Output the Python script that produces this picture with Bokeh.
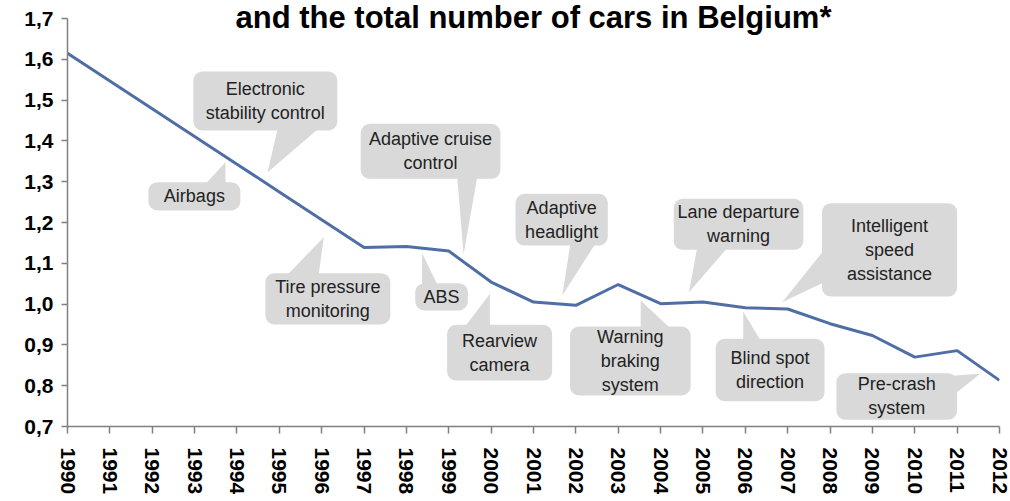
from bokeh.plotting import figure
from bokeh.models import (FixedTicker, CustomJSTickFormatter, BoxAnnotation, Label,
                          ColumnDataSource, Range1d)
from bokeh.core.properties import value
from bokeh.embed import file_html
from bokeh.resources import INLINE

# ---- data ----
years = list(range(1990, 2013))
ratio = [1.615, 1.547, 1.479, 1.411, 1.343, 1.275, 1.207, 1.139, 1.141, 1.130,
         1.054, 1.005, 0.997, 1.048, 1.001, 1.005, 0.991, 0.988, 0.952, 0.923,
         0.870, 0.886, 0.813]
y_ticks = [0.7, 0.8, 0.9, 1.0, 1.1, 1.2, 1.3, 1.4, 1.5, 1.6, 1.7]
title_text = "and the total number of cars in Belgium*"

# callouts: text, box (left, right, bottom, top) and pointer triangle, in data units
callout_texts = ["Electronic\nstability control", "Airbags", "Adaptive cruise\ncontrol",
                 "Tire pressure\nmonitoring", "ABS", "Rearview\ncamera",
                 "Adaptive\nheadlight", "Lane departure\nwarning",
                 "Intelligent\nspeed\nassistance", "Warning\nbraking\nsystem",
                 "Blind spot\ndirection", "Pre-crash\nsystem"]
callout_boxes = [(1992.97, 1996.37, 1.4255, 1.570),
                 (1991.91, 1994.08, 1.2294, 1.2988),
                 (1996.92, 2000.22, 1.3071, 1.4419),
                 (1994.67, 1997.62, 0.950, 1.0757),
                 (1998.21, 1999.45, 0.9843, 1.0512),
                 (1998.96, 2001.44, 0.8127, 0.9493),
                 (2000.575, 2002.754, 1.1436, 1.2703),
                 (2004.31, 2007.37, 1.133, 1.258),
                 (2007.81, 2011.0, 1.0186, 1.2473),
                 (2001.86, 2004.71, 0.776, 0.945),
                 (2005.30, 2007.87, 0.762, 0.915),
                 (2008.15, 2011.0, 0.7164, 0.8307)]
pointer_xs = [[1994.96, 1995.92, 1994.72],
              [1993.26, 1993.73, 1993.73],
              [1999.20, 1999.67, 1999.35],
              [1995.19, 1995.93, 1996.05],
              [1998.37, 1998.73, 1998.37],
              [1999.39, 1999.97, 1999.97],
              [2001.87, 2002.46, 2001.68],
              [2004.86, 2005.57, 2004.67],
              [2007.85, 2007.85, 2006.87],
              [2003.53, 2004.23, 2003.53],
              [2005.95, 2006.36, 2005.95],
              [2010.95, 2010.95, 2011.55]]
pointer_ys = [[1.4300, 1.4300, 1.3225],
              [1.2950, 1.2950, 1.3478],
              [1.3110, 1.3110, 1.1216],
              [1.0720, 1.0720, 1.1640],
              [1.0480, 1.0480, 1.1248],
              [0.9460, 0.9460, 1.0252],
              [1.1480, 1.1480, 1.0211],
              [1.1370, 1.1370, 1.0290],
              [1.1314, 1.0530, 1.0047],
              [0.9410, 0.9410, 1.0088],
              [0.9110, 0.9110, 0.9819],
              [0.8250, 0.7800, 0.8290]]

FONT = "Liberation Sans"
BOX_COLOR = "#D9D9D9"
AXIS_COLOR = "#808080"
Y_TOP = 1.7 + 18 / 408.0   # frame reaches the top edge so the cropped title is not clipped

p = figure(width=1010, height=501, output_backend="svg", toolbar_location=None,
           x_range=Range1d(1990, 2012), y_range=Range1d(0.7, Y_TOP),
           min_border_left=67, min_border_right=11, min_border_top=0,
           min_border_bottom=75)
p.outline_line_color = None
p.grid.visible = False
p.background_fill_color = "white"

# callout boxes
for (l, r, b, t) in callout_boxes:
    p.add_layout(BoxAnnotation(left=l, right=r, bottom=b, top=t, fill_color=BOX_COLOR,
                               fill_alpha=1.0, line_color=None, border_radius=9,
                               level="underlay"))

# pointers
p.patches(xs=pointer_xs, ys=pointer_ys, fill_color=BOX_COLOR, line_color=None)

# main line
p.line(years, ratio, line_color="#4F6EA6", line_width=3)

# callout texts
tsrc = ColumnDataSource(dict(
    x=[(b[0] + b[1]) / 2 for b in callout_boxes],
    y=[(b[2] + b[3]) / 2 for b in callout_boxes],
    text=callout_texts))
p.text(x="x", y="y", text="text", source=tsrc, text_align="center",
       text_baseline="middle", text_font=value(FONT), text_font_size="18px",
       text_color="#222222", text_line_height=1.2)

# title (the original image is cropped right above this line)
p.add_layout(Label(x=2001.0, y=Y_TOP - 17 / 408.0, text=title_text, text_align="center",
                   text_baseline="alphabetic", text_font=FONT, text_font_size="31px",
                   text_font_style="bold", text_color="black"))

# axes
p.xaxis.ticker = FixedTicker(ticks=years)
p.xaxis.major_label_orientation = "vertical"
p.xaxis.major_label_text_font = FONT
p.xaxis.major_label_text_font_size = "21px"
p.xaxis.major_label_text_font_style = "bold"
p.xaxis.major_label_text_color = "black"
p.xaxis.major_label_standoff = 14
p.xaxis.major_tick_out = 7
p.xaxis.major_tick_in = 0
p.xaxis.minor_tick_line_color = None

p.yaxis.ticker = FixedTicker(ticks=y_ticks)
p.yaxis.bounds = (0.7, 1.7)
p.yaxis.formatter = CustomJSTickFormatter(code="return tick.toFixed(1).replace('.', ',');")
p.yaxis.major_label_text_font = FONT
p.yaxis.major_label_text_font_size = "21px"
p.yaxis.major_label_text_font_style = "bold"
p.yaxis.major_label_text_color = "black"
p.yaxis.major_label_standoff = 8
p.yaxis.major_tick_out = 6
p.yaxis.major_tick_in = 0
p.yaxis.minor_tick_line_color = None

for ax in (p.xaxis, p.yaxis):
    ax.axis_line_color = AXIS_COLOR
    ax.axis_line_width = 1.5
    ax.major_tick_line_color = AXIS_COLOR
    ax.major_tick_line_width = 1.5

open("out.html", "w").write(file_html(p, INLINE))
